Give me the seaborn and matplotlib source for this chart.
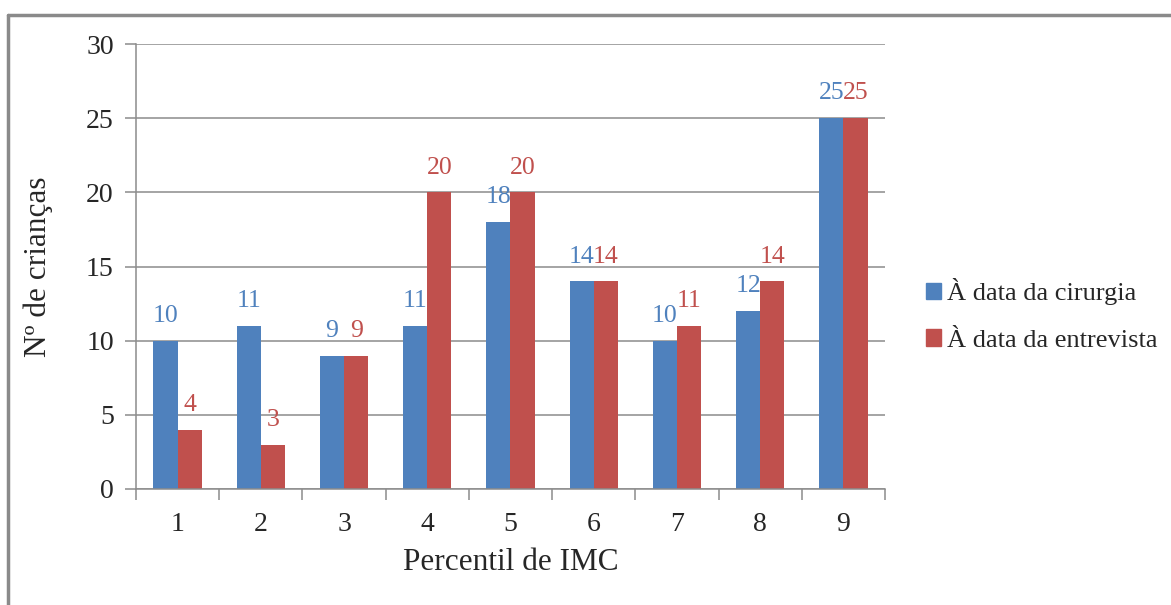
import matplotlib
matplotlib.use("Agg")
import matplotlib.pyplot as plt
from matplotlib.lines import Line2D
import seaborn as sns
import pandas as pd

categories = ["1", "2", "3", "4", "5", "6", "7", "8", "9"]
cirurgia = [10, 11, 9, 11, 18, 14, 10, 12, 25]
entrevista = [4, 3, 9, 20, 20, 14, 11, 14, 25]
series_names = ["À data da cirurgia", "À data da entrevista"]
colors = ["#4F81BD", "#C0504D"]
yticks = [0, 5, 10, 15, 20, 25, 30]

df = pd.DataFrame({
    "Percentil": categories * 2,
    "Valor": cirurgia + entrevista,
    "Serie": [series_names[0]] * len(categories) + [series_names[1]] * len(categories),
})

sns.set_style("white")
plt.rcParams["font.family"] = ["Liberation Serif", "DejaVu Serif"]

fig = plt.figure(figsize=(11.71, 6.05), dpi=100)
ax = fig.add_axes([136 / 1171, 1 - 489 / 605, (885 - 136) / 1171, (489 - 44) / 605])

sns.barplot(data=df, x="Percentil", y="Valor", hue="Serie", order=categories,
            hue_order=series_names, palette=colors, width=0.58, gap=0,
            saturation=1, edgecolor="none", linewidth=0, ax=ax, legend=True)

ax.set_ylim(0, 30)
ax.set_xlim(-0.5, len(categories) - 0.5)
ax.set_yticks(yticks)
ax.set_yticklabels([str(t) for t in yticks], fontsize=20)
ax.yaxis.grid(True, color="#8c8c8c", linewidth=1.1)
ax.set_axisbelow(True)

# x ticks at category boundaries, labels at centers
ax.set_xticks([i - 0.5 for i in range(len(categories) + 1)])
ax.set_xticklabels([])
ax.set_xticks(range(len(categories)), minor=True)
ax.set_xticklabels(categories, minor=True, fontsize=20)
ax.tick_params(axis="x", which="major", length=8, color="#8c8c8c", width=1.1, direction="out", bottom=True)
ax.tick_params(axis="x", which="minor", length=0, pad=16.5)
ax.tick_params(axis="y", length=8, color="#8c8c8c", width=1.1, direction="out", pad=8, left=True)

for side in ["top", "right"]:
    ax.spines[side].set_visible(False)
for side in ["left", "bottom"]:
    ax.spines[side].set_color("#8c8c8c")
    ax.spines[side].set_linewidth(1.1)

ax.set_xlabel("Percentil de IMC", fontsize=22.5)
ax.set_ylabel("Nº de crianças", fontsize=22.5)
ax.xaxis.set_label_coords(0.5, -0.166)
ax.xaxis.label.set_va("center")
ax.yaxis.set_label_coords(-0.131, 0.5)
ax.yaxis.label.set_va("center")

# data labels
for cont, col in zip(ax.containers, colors):
    for bar in cont:
        h = bar.get_height()
        ax.annotate(f"{h:.0f}", (bar.get_x() + bar.get_width() / 2, h),
                    xytext=(0, 13.5), textcoords="offset points",
                    ha="center", va="baseline", color=col, fontsize=18.5)

ax.get_legend().remove()
handles = [plt.Rectangle((0, 0), 1, 1, color=c) for c in colors]
fig.legend(handles, series_names, loc="center left",
           bbox_to_anchor=(926 / 1171, 1 - 315 / 605), frameon=False,
           fontsize=19, handlelength=0.58, handleheight=0.58,
           handletextpad=0.2, labelspacing=0.92, borderpad=0, borderaxespad=0)

# outer frame (left and top edges visible)
fig.add_artist(Line2D([8 / 1171, 8 / 1171], [-0.1, 1 - 15 / 605], color="#8a8a8a", linewidth=2.5))
fig.add_artist(Line2D([8 / 1171, 1.1], [1 - 15 / 605, 1 - 15 / 605], color="#8a8a8a", linewidth=2.5))

fig.savefig("out.png", dpi=100)
